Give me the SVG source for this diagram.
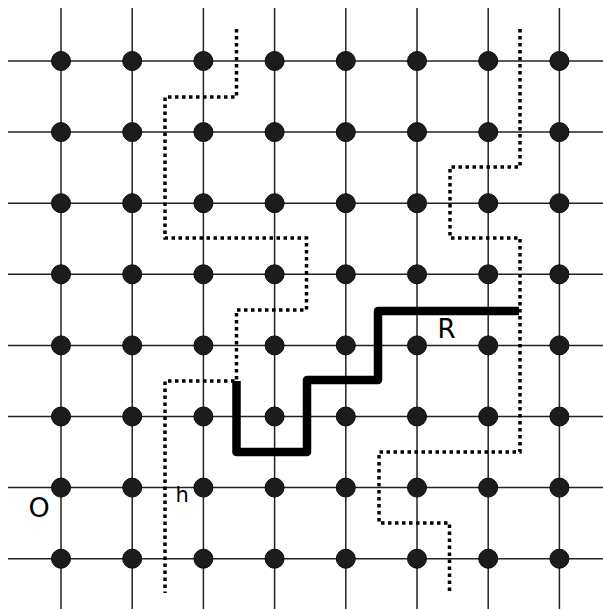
<svg xmlns="http://www.w3.org/2000/svg" width="603" height="609" viewBox="0 0 603 609">
<style>
.grid line{stroke:#222;stroke-width:1.5}
.node circle{fill:#1c1c1c;stroke:#0a0a0a;stroke-width:1}
.dot{fill:none;stroke:#000;stroke-width:3.5;stroke-dasharray:3.5 3.5}
.bold{fill:none;stroke:#000;stroke-width:8.5;stroke-linejoin:round}
.lbl{font-family:"DejaVu Sans","Liberation Sans",sans-serif;fill:#000}
</style>
<rect width="603" height="609" fill="#fff"/>
<g id="connectors">
<g class="grid">
<line x1="61" y1="8" x2="61" y2="609"/>
<line x1="132.2" y1="8" x2="132.2" y2="609"/>
<line x1="203.4" y1="8" x2="203.4" y2="609"/>
<line x1="274.6" y1="8" x2="274.6" y2="609"/>
<line x1="345.8" y1="8" x2="345.8" y2="609"/>
<line x1="417" y1="8" x2="417" y2="609"/>
<line x1="488.2" y1="8" x2="488.2" y2="609"/>
<line x1="559.4" y1="8" x2="559.4" y2="609"/>
<line x1="8" y1="61" x2="603" y2="61"/>
<line x1="8" y1="132.1" x2="603" y2="132.1"/>
<line x1="8" y1="203.2" x2="603" y2="203.2"/>
<line x1="8" y1="274.3" x2="603" y2="274.3"/>
<line x1="8" y1="345.4" x2="603" y2="345.4"/>
<line x1="8" y1="416.5" x2="603" y2="416.5"/>
<line x1="8" y1="487.6" x2="603" y2="487.6"/>
<line x1="8" y1="558.7" x2="603" y2="558.7"/>
</g>
<path class="dot" d="M236.5,29 V97 H165 V238 H306.5 V310 H236.5 V381 H165 V593"/>
<path class="dot" d="M520,29 V167 H450 V238 H520 V452 H379 V523 H449.5 V593"/>
<path class="bold" d="M236.5,381 V452 H307 V380 H378 V311 H519"/>
</g>
<g id="nodes" class="node">
<g id="n0_0"><circle cx="61" cy="61" r="9.5"/></g><g id="n1_0"><circle cx="132.2" cy="61" r="9.5"/></g><g id="n2_0"><circle cx="203.4" cy="61" r="9.5"/></g><g id="n3_0"><circle cx="274.6" cy="61" r="9.5"/></g><g id="n4_0"><circle cx="345.8" cy="61" r="9.5"/></g><g id="n5_0"><circle cx="417" cy="61" r="9.5"/></g><g id="n6_0"><circle cx="488.2" cy="61" r="9.5"/></g><g id="n7_0"><circle cx="559.4" cy="61" r="9.5"/></g>
<g id="n0_1"><circle cx="61" cy="132.1" r="9.5"/></g><g id="n1_1"><circle cx="132.2" cy="132.1" r="9.5"/></g><g id="n2_1"><circle cx="203.4" cy="132.1" r="9.5"/></g><g id="n3_1"><circle cx="274.6" cy="132.1" r="9.5"/></g><g id="n4_1"><circle cx="345.8" cy="132.1" r="9.5"/></g><g id="n5_1"><circle cx="417" cy="132.1" r="9.5"/></g><g id="n6_1"><circle cx="488.2" cy="132.1" r="9.5"/></g><g id="n7_1"><circle cx="559.4" cy="132.1" r="9.5"/></g>
<g id="n0_2"><circle cx="61" cy="203.2" r="9.5"/></g><g id="n1_2"><circle cx="132.2" cy="203.2" r="9.5"/></g><g id="n2_2"><circle cx="203.4" cy="203.2" r="9.5"/></g><g id="n3_2"><circle cx="274.6" cy="203.2" r="9.5"/></g><g id="n4_2"><circle cx="345.8" cy="203.2" r="9.5"/></g><g id="n5_2"><circle cx="417" cy="203.2" r="9.5"/></g><g id="n6_2"><circle cx="488.2" cy="203.2" r="9.5"/></g><g id="n7_2"><circle cx="559.4" cy="203.2" r="9.5"/></g>
<g id="n0_3"><circle cx="61" cy="274.3" r="9.5"/></g><g id="n1_3"><circle cx="132.2" cy="274.3" r="9.5"/></g><g id="n2_3"><circle cx="203.4" cy="274.3" r="9.5"/></g><g id="n3_3"><circle cx="274.6" cy="274.3" r="9.5"/></g><g id="n4_3"><circle cx="345.8" cy="274.3" r="9.5"/></g><g id="n5_3"><circle cx="417" cy="274.3" r="9.5"/></g><g id="n6_3"><circle cx="488.2" cy="274.3" r="9.5"/></g><g id="n7_3"><circle cx="559.4" cy="274.3" r="9.5"/></g>
<g id="n0_4"><circle cx="61" cy="345.4" r="9.5"/></g><g id="n1_4"><circle cx="132.2" cy="345.4" r="9.5"/></g><g id="n2_4"><circle cx="203.4" cy="345.4" r="9.5"/></g><g id="n3_4"><circle cx="274.6" cy="345.4" r="9.5"/></g><g id="n4_4"><circle cx="345.8" cy="345.4" r="9.5"/></g><g id="n5_4"><circle cx="417" cy="345.4" r="9.5"/></g><g id="n6_4"><circle cx="488.2" cy="345.4" r="9.5"/></g><g id="n7_4"><circle cx="559.4" cy="345.4" r="9.5"/></g>
<g id="n0_5"><circle cx="61" cy="416.5" r="9.5"/></g><g id="n1_5"><circle cx="132.2" cy="416.5" r="9.5"/></g><g id="n2_5"><circle cx="203.4" cy="416.5" r="9.5"/></g><g id="n3_5"><circle cx="274.6" cy="416.5" r="9.5"/></g><g id="n4_5"><circle cx="345.8" cy="416.5" r="9.5"/></g><g id="n5_5"><circle cx="417" cy="416.5" r="9.5"/></g><g id="n6_5"><circle cx="488.2" cy="416.5" r="9.5"/></g><g id="n7_5"><circle cx="559.4" cy="416.5" r="9.5"/></g>
<g id="n0_6"><circle cx="61" cy="487.6" r="9.5"/></g><g id="n1_6"><circle cx="132.2" cy="487.6" r="9.5"/></g><g id="n2_6"><circle cx="203.4" cy="487.6" r="9.5"/></g><g id="n3_6"><circle cx="274.6" cy="487.6" r="9.5"/></g><g id="n4_6"><circle cx="345.8" cy="487.6" r="9.5"/></g><g id="n5_6"><circle cx="417" cy="487.6" r="9.5"/></g><g id="n6_6"><circle cx="488.2" cy="487.6" r="9.5"/></g><g id="n7_6"><circle cx="559.4" cy="487.6" r="9.5"/></g>
<g id="n0_7"><circle cx="61" cy="558.7" r="9.5"/></g><g id="n1_7"><circle cx="132.2" cy="558.7" r="9.5"/></g><g id="n2_7"><circle cx="203.4" cy="558.7" r="9.5"/></g><g id="n3_7"><circle cx="274.6" cy="558.7" r="9.5"/></g><g id="n4_7"><circle cx="345.8" cy="558.7" r="9.5"/></g><g id="n5_7"><circle cx="417" cy="558.7" r="9.5"/></g><g id="n6_7"><circle cx="488.2" cy="558.7" r="9.5"/></g><g id="n7_7"><circle cx="559.4" cy="558.7" r="9.5"/></g>
</g>
<g id="labels">
<text class="lbl" x="28.5" y="516.5" font-size="27">O</text>
<text class="lbl" x="175.5" y="502" font-size="21">h</text>
<text class="lbl" x="437.5" y="338" font-size="26">R</text>
</g>
</svg>
